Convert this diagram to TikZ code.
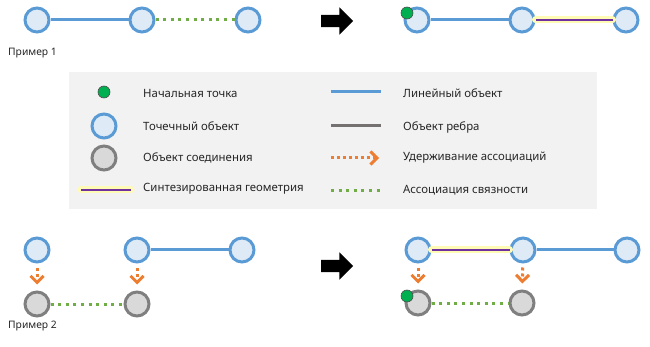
\documentclass[tikz,border=0pt]{standalone}
\usepackage{fontspec}
\setmainfont{Noto Sans}
\usetikzlibrary{arrows.meta, positioning, shapes.arrows}
\definecolor{ptblue}{RGB}{91, 155, 213}
\definecolor{ptfill}{RGB}{222, 235, 247}
\definecolor{jcgray}{RGB}{127, 127, 127}
\definecolor{jcfill}{RGB}{217, 217, 217}
\definecolor{edgegray}{RGB}{118, 113, 113}
\definecolor{conngreen}{RGB}{112, 173, 71}
\definecolor{contorange}{RGB}{237, 125, 49}
\definecolor{startgreen}{RGB}{0, 176, 80}
\definecolor{synpurple}{RGB}{112, 48, 160}
\definecolor{synglow}{RGB}{255, 250, 180}
\definecolor{legendbg}{RGB}{242, 242, 242}
\definecolor{txtgray}{RGB}{38, 38, 38}
\tikzset{
  pointobj/.style={circle, draw=ptblue, fill=ptfill, line width=3pt,
                   minimum size=24pt, inner sep=0pt},
  junction/.style={circle, draw=jcgray, fill=jcfill, line width=3pt,
                   minimum size=24pt, inner sep=0pt},
  startpt/.style={circle, draw=black!70, fill=startgreen, line width=0.6pt,
                  minimum size=12pt, inner sep=0pt},
  lineobj/.style={ptblue, line width=3pt},
  edgeobj/.style={edgegray, line width=3pt},
  synth/.style={synpurple, line width=1.6pt,
                preaction={draw=synglow, line width=7pt, line cap=round}},
  connect/.style={conngreen, line width=3pt, dash pattern=on 3pt off 4.6pt},
  contain/.style={contorange, line width=3pt, dash pattern=on 3pt off 3pt,
                  -{Straight Barb[length=6.5pt, width=13pt, line width=3pt]}},
  goarrow/.style={single arrow, fill=black, draw=none, inner xsep=0pt,
                  inner ysep=6pt, minimum height=32pt,
                  single arrow head extend=7.5pt},
  lbl/.style={anchor=west, font=\fontsize{11.4}{13}\selectfont, text=txtgray,
              inner sep=0pt},
  caption/.style={anchor=west, font=\fontsize{10.3}{12}\selectfont, text=txtgray,
                  inner sep=0pt},
}
\begin{document}
\begin{tikzpicture}[x=1pt, y=-1pt]
  \useasboundingbox (0,0) rectangle (650,347);

  % Example 1, before
  \node[pointobj] (aa) at (37,20) {};
  \node[pointobj] (ab) at (142,20) {};
  \node[pointobj] (ac) at (248,20) {};
  \draw[lineobj] (aa) -- (ab);
  \draw[connect] (ab) -- (ac);
  \node[caption] (cap1) at (8,53) {Пример 1};
  \node[goarrow] (go1) at (334,21) {};

  % Example 1, after
  \node[pointobj] (ba) at (417,20) {};
  \node[pointobj] (bb) at (522,20) {};
  \node[pointobj] (bc) at (626,20) {};
  \draw[lineobj] (ba) -- (bb);
  \draw[synth] (bb) -- (bc);
  \node[startpt] (bstart) at (407,13) {};

  % Legend
  \fill[legendbg] (69,72) rectangle (597,209);
  \node[startpt] (lgstart) at (104,92) {};
  \node[pointobj] (lgpoint) at (104,126) {};
  \node[junction] (lgjunc) at (104,158) {};
  \coordinate (lgsynA) at (81,190);  \coordinate (lgsynB) at (131,190);
  \draw[synth] (lgsynA) -- (lgsynB);
  \coordinate (lglineA) at (331,92);  \coordinate (lglineB) at (381,92);
  \draw[lineobj] (lglineA) -- (lglineB);
  \coordinate (lgedgeA) at (331,126); \coordinate (lgedgeB) at (381,126);
  \draw[edgeobj] (lgedgeA) -- (lgedgeB);
  \coordinate (lgcontA) at (331,158); \coordinate (lgcontB) at (379,158);
  \draw[contain] (lgcontA) -- (lgcontB);
  \coordinate (lgconnA) at (331,191); \coordinate (lgconnB) at (383,191);
  \draw[connect] (lgconnA) -- (lgconnB);
  \foreach \name/\y/\txt in {tstart/93/Начальная точка, tpoint/126/Точечный объект,
      tjunc/158/Объект соединения, tsynth/189/Синтезированная геометрия}
    \node[lbl] (\name) at (143,\y) {\txt};
  \foreach \name/\y/\txt in {tline/93/Линейный объект, tedge/127/Объект ребра,
      tcont/158/Удерживание ассоциаций, tconn/190/Ассоциация связности}
    \node[lbl] (\name) at (403,\y) {\txt};

  % Example 2, before
  \node[pointobj] (ca) at (37,250) {};
  \node[pointobj] (cb) at (137,250) {};
  \node[pointobj] (cc) at (242,250) {};
  \node[junction] (cd) at (37,304) {};
  \node[junction] (ce) at (137,304) {};
  \draw[lineobj] (cb) -- (cc);
  \draw[contain, shorten <=4pt, shorten >=6pt] (ca) -- (cd);
  \draw[contain, shorten <=4pt, shorten >=6pt] (cb) -- (ce);
  \draw[connect] (cd) -- (ce);
  \node[caption] (cap2) at (8,326) {Пример 2};
  \node[goarrow] (go2) at (334,266) {};

  % Example 2, after
  \node[pointobj] (da) at (418,250) {};
  \node[pointobj] (db) at (523,250) {};
  \node[pointobj] (dc) at (627,250) {};
  \node[junction] (dd) at (418,303) {};
  \node[junction] (de) at (522,303) {};
  \draw[synth] (da) -- (db);
  \draw[lineobj] (db) -- (dc);
  \draw[contain, shorten <=4pt, shorten >=6pt] (da) -- (dd);
  \draw[contain, shorten <=4pt, shorten >=6pt] (db) -- (de);
  \draw[connect] (dd) -- (de);
  \node[startpt] (dstart) at (407,296) {};
\end{tikzpicture}
\end{document}
